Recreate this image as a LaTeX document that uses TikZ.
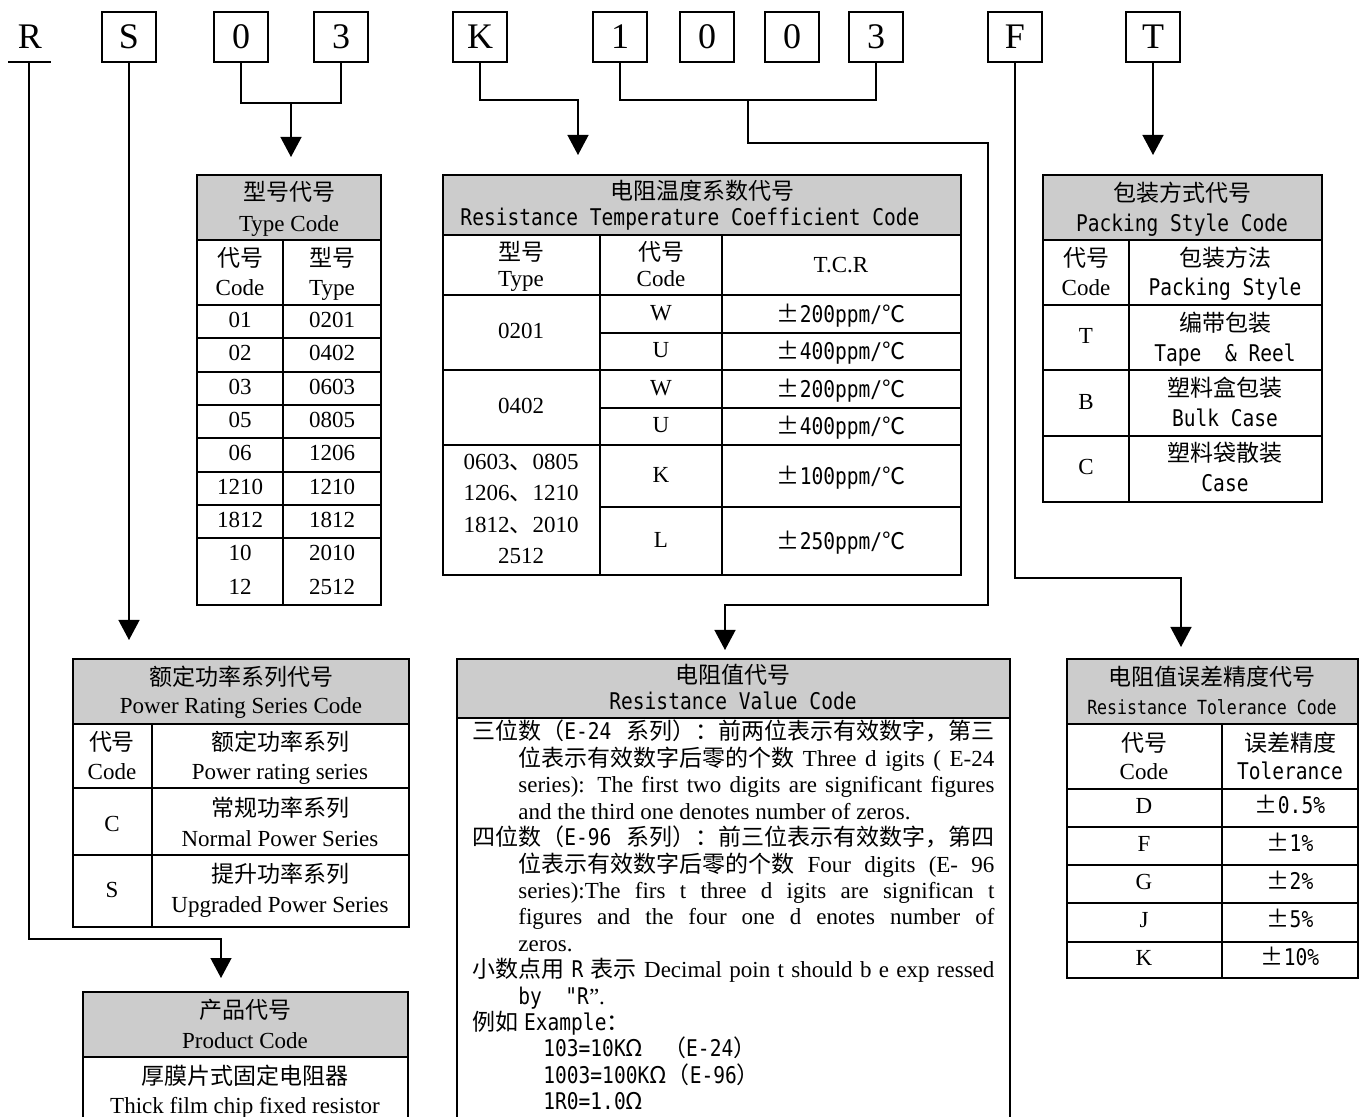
\documentclass[tikz,border=0pt]{standalone}
\usepackage{fontspec}
\setmainfont{Liberation Serif}
\newfontfamily\cjk{Noto Sans CJK SC}
\newfontfamily\hwfont[FakeStretch=0.85]{DejaVu Sans Mono}
\newcommand{\zh}[1]{{\cjk #1}}
\newcommand{\hwt}[1]{{\hwfont #1}}
\usetikzlibrary{arrows.meta}
\definecolor{hdrgray}{RGB}{204,204,204}
\begin{document}
\begin{tikzpicture}[x=0.5pt, y=-0.5pt,
	every node/.style={inner sep=0pt, font=\fontsize{11.5}{13}\selectfont, text height=8.5pt, text depth=2.5pt},
	zhline/.style={yshift=-1.5pt},
	letterbox/.style={draw, line width=1pt, minimum width=27pt, minimum height=25pt, font=\fontsize{18}{20}\selectfont, text height=12pt, text depth=0pt},
	tabline/.style={line width=1pt},
	headfill/.style={fill=hdrgray, draw, line width=1pt},
	link/.style={line width=0.65pt},
	arrowlink/.style={link, -{Triangle[length=10pt, width=10.5pt]}}]
	\useasboundingbox (0,0) rectangle (1367,1117);
	\clip (0,0) rectangle (1367,1117);
	
	% code letters
	\node (bR) at (30,37) [font=\fontsize{18}{20}\selectfont, text height=12pt, text depth=0pt] {R};
	\draw[link] (8,62) -- (51,62);
	\coordinate (rbar) at (29,62);
	\node[letterbox] (bS) at (129,37) {S};
	\node[letterbox] (bzeroA) at (241,37) {0};
	\node[letterbox] (bthreeA) at (341,37) {3};
	\node[letterbox] (bK) at (480,37) {K};
	\node[letterbox] (bone) at (620,37) {1};
	\node[letterbox] (bzeroB) at (707,37) {0};
	\node[letterbox] (bzeroC) at (792,37) {0};
	\node[letterbox] (bthreeB) at (876,37) {3};
	\node[letterbox] (bF) at (1015,37) {F};
	\node[letterbox] (bT) at (1153,37) {T};
	
	% connectors
	\coordinate (typejoin) at (291,103);
	\coordinate (typetip) at (291,157);
	\draw[link] (bzeroA.south) |- (typejoin) -| (bthreeA.south);
	\draw[arrowlink] (typejoin) -- (typetip);
	
	\coordinate (kturn) at (578,100);
	\coordinate (tcrtip) at (578,155);
	\draw[arrowlink] (bK.south) |- (kturn) -- (tcrtip);
	
	\coordinate (valjoin) at (748,100);
	\coordinate (valA) at (988,143);
	\coordinate (valB) at (725,605);
	\coordinate (valtip) at (725,650);
	\draw[link] (bone.south) |- (valjoin) -| (bthreeB.south);
	\draw[arrowlink] (valjoin) |- (valA) |- (valB) -- (valtip);
	
	\coordinate (fturn) at (1181,578);
	\coordinate (toltip) at (1181,647);
	\draw[arrowlink] (bF.south) |- (fturn) -- (toltip);
	
	\coordinate (packtip) at (1153,155);
	\draw[arrowlink] (bT.south) -- (packtip);
	
	\coordinate (powtip) at (129,640);
	\draw[arrowlink] (bS.south) -- (powtip);
	
	\coordinate (rturn) at (221,939);
	\coordinate (prodtip) at (221,978);
	\draw[arrowlink] (rbar) |- (rturn) -- (prodtip);
	
	% type code table
	\draw[headfill] (197,175) rectangle (381,240);
	\draw[tabline] (197,240) rectangle (381,605);
	\draw[tabline] (283,240) -- (283,605);
	\foreach \i in {0,...,7}{
		\draw[tabline] (197,{305+33.33*\i}) -- (381,{305+33.33*\i});
	}
	\node[zhline] (typeh1) at (289,192) {\zh{型号代号}};
	\node (typeh2) at (289,226) {Type Code};
	\node[zhline] (typec1) at (240,258) {\zh{代号}};
	\node (typec2) at (240,290) {Code};
	\node[zhline] (typet1) at (332,258) {\zh{型号}};
	\node (typet2) at (332,290) {Type};
	\foreach \cd/\tp [count=\i] in {01/0201, 02/0402, 03/0603, 05/0805, 06/1206, 1210/1210, 1812/1812, 10/2010, 12/2512}{
		\node (typecode\i) at (240,{305+33.33*(\i-0.5)}) {\cd};
		\node (typeval\i) at (332,{305+33.33*(\i-0.5)}) {\tp};
	}
	
	% temperature coefficient table
	\draw[headfill] (443,175) rectangle (961,235);
	\draw[tabline] (443,235) rectangle (961,575);
	\draw[tabline] (600,235) -- (600,575);
	\draw[tabline] (722,235) -- (722,575);
	\foreach \y in {295,370,445} \draw[tabline] (443,\y) -- (961,\y);
	\foreach \y in {333,408,507} \draw[tabline] (600,\y) -- (961,\y);
	\node[zhline] (tcrh1) at (702,191) {\zh{电阻温度系数代号}};
	\node (tcrh2) at (690,220) {\hwt{Resistance Temperature Coefficient Code}};
	\node[zhline] (tcrt1) at (521,252) {\zh{型号}};
	\node (tcrt2) at (521,281) {Type};
	\node[zhline] (tcrc1) at (661,252) {\zh{代号}};
	\node (tcrc2) at (661,281) {Code};
	\node (tcrv) at (841,267) {T.C.R};
	\node (tcrA) at (521,333) {0201};
	\node (tcrB) at (521,408) {0402};
	\node (tcrgrp1) at (521,464) {0603\zh{、}0805};
	\node (tcrgrp2) at (521,495) {1206\zh{、}1210};
	\node (tcrgrp3) at (521,527) {1812\zh{、}2010};
	\node (tcrgrp4) at (521,558) {2512};
	\foreach \y/\cd/\pv [count=\i] in {315/W/200, 352/U/400, 390/W/200, 427/U/400, 477/K/100, 542/L/250}{
		\node (tcrcode\i) at (661,\y) {\cd};
		\node (tcrval\i) at (841,{\y+2}) {\zh{±}\hwt{\pv ppm/}\zh{℃}};
	}
	
	% packing style table
	\draw[headfill] (1043,175) rectangle (1322,240);
	\draw[tabline] (1043,240) rectangle (1322,502);
	\draw[tabline] (1129,240) -- (1129,502);
	\foreach \y in {305,370,436} \draw[tabline] (1043,\y) -- (1322,\y);
	\node[zhline] (packh1) at (1182,193) {\zh{包装方式代号}};
	\node (packh2) at (1182,226) {\hwt{Packing Style Code}};
	\node[zhline] (packc1) at (1086,258) {\zh{代号}};
	\node (packc2) at (1086,290) {Code};
	\node[zhline] (packs1) at (1225,258) {\zh{包装方法}};
	\node (packs2) at (1225,290) {\hwt{Packing Style}};
	\node (packT) at (1086,338) {T};
	\node[zhline] (packzhT) at (1225,323) {\zh{编带包装}};
	\node (packenT) at (1225,356) {\hwt{Tape~~\& Reel}};
	\node (packB) at (1086,404) {B};
	\node[zhline] (packzhB) at (1225,388) {\zh{塑料盒包装}};
	\node (packenB) at (1225,421) {\hwt{Bulk Case}};
	\node (packC) at (1086,469) {C};
	\node[zhline] (packzhC) at (1225,453) {\zh{塑料袋散装}};
	\node (packenC) at (1225,486) {\hwt{Case}};
	
	% power rating table
	\draw[headfill] (73,659) rectangle (409,724);
	\draw[tabline] (73,724) rectangle (409,927);
	\draw[tabline] (152,724) -- (152,927);
	\foreach \y in {788,855} \draw[tabline] (73,\y) -- (409,\y);
	\node[zhline] (powh1) at (241,677) {\zh{额定功率系列代号}};
	\node (powh2) at (241,708) {Power Rating Series Code};
	\node[zhline] (powc1) at (112,742) {\zh{代号}};
	\node (powc2) at (112,773) {Code};
	\node[zhline] (pows1) at (280,742) {\zh{额定功率系列}};
	\node (pows2) at (280,773) {Power rating series};
	\node (powC) at (112,825) {C};
	\node[zhline] (powzhC) at (280,807) {\zh{常规功率系列}};
	\node (powenC) at (280,840) {Normal Power Series};
	\node (powS) at (112,891) {S};
	\node[zhline] (powzhS) at (280,873) {\zh{提升功率系列}};
	\node (powenS) at (280,906) {Upgraded Power Series};
	
	% product table
	\draw[headfill] (83,992) rectangle (408,1057);
	\draw[tabline] (83,1057) rectangle (408,1160);
	\node[zhline] (prodh1) at (245,1009) {\zh{产品代号}};
	\node (prodh2) at (245,1042) {Product Code};
	\node[zhline] (prodzh) at (245,1075) {\zh{厚膜片式固定电阻器}};
	\node (proden) at (245,1107) {Thick film chip fixed resistor};
	
	% resistance value table
	\draw[headfill] (457,659) rectangle (1010,718);
	\draw[tabline] (457,718) rectangle (1010,1160);
	\node[zhline] (valh1) at (733,675) {\zh{电阻值代号}};
	\node (valh2) at (733,704) {\hwt{Resistance Value Code}};
	\node[anchor=west] (vl1) at (472,734) {\makebox[261pt][s]{\zh{三位数（}\hwt{E-24} \zh{系列）：前两位表示有效数字，第三}}};
	\node[anchor=west] (vl2) at (518,760.4) {\makebox[238pt][s]{\zh{位表示有效数字后零的个数} Three d igits ( E-24}};
	\node[anchor=west] (vl3) at (518,786.8) {\makebox[238pt][s]{series): The first two digits are significant figures}};
	\node[anchor=west] (vl4) at (518,813.2) {and the third one denotes number of zeros.};
	\node[anchor=west] (vl5) at (472,839.6) {\makebox[261pt][s]{\zh{四位数（}\hwt{E-96} \zh{系列）：前三位表示有效数字，第四}}};
	\node[anchor=west] (vl6) at (518,866) {\makebox[238pt][s]{\zh{位表示有效数字后零的个数} Four digits (E- 96}};
	\node[anchor=west] (vl7) at (518,892.4) {\makebox[238pt][s]{series):The firs t three d igits are significan t}};
	\node[anchor=west] (vl8) at (518,918.8) {\makebox[238pt][s]{figures and the four one d enotes number of}};
	\node[anchor=west] (vl9) at (518,945.2) {zeros.};
	\node[anchor=west] (vl10) at (472,971.6) {\makebox[261pt][s]{\zh{小数点用} \hwt{R} \zh{表示} Decimal poin t should b e exp ressed}};
	\node[anchor=west] (vl11) at (518,998) {\hwt{by~~"R}”.};
	\node[anchor=west] (vl12) at (472,1024.4) {\zh{例如} \hwt{Example}\zh{：}};
	\node[anchor=west] (vl13) at (543,1050.8) {\hwt{103=10K}\zh{Ω}\hspace{10pt}\zh{（}\hwt{E-24}\zh{）}};
	\node[anchor=west] (vl14) at (543,1077.2) {\hwt{1003=100K}\zh{Ω（}\hwt{E-96}\zh{）}};
	\node[anchor=west] (vl15) at (543,1103.6) {\hwt{1R0=1.0}\zh{Ω}};
	
	% tolerance table
	\draw[headfill] (1067,659) rectangle (1358,724);
	\draw[tabline] (1067,724) rectangle (1358,978);
	\draw[tabline] (1222,724) -- (1222,978);
	\foreach \y in {789,827,865,903,942} \draw[tabline] (1067,\y) -- (1358,\y);
	\node[zhline] (tolh1) at (1212,677) {\zh{电阻值误差精度代号}};
	\node (tolh2) at (1212,709) {\fontsize{9.75}{11}\selectfont\hwt{Resistance Tolerance Code}};
	\node[zhline] (tolc1) at (1144,743) {\zh{代号}};
	\node (tolc2) at (1144,773) {Code};
	\node[zhline] (tolt1) at (1290,743) {\zh{误差精度}};
	\node (tolt2) at (1290,773) {\hwt{Tolerance}};
	\foreach \cd/\pv [count=\i] in {D/0.5, F/1, G/2, J/5, K/10}{
		\node (tolcode\i) at (1144,{789+37.8*(\i-0.5)}) {\cd};
		\node (tolval\i) at (1290,{789+37.8*(\i-0.5)}) {\zh{±}\hwt{\pv\%}};
	}
\end{tikzpicture}
\end{document}
